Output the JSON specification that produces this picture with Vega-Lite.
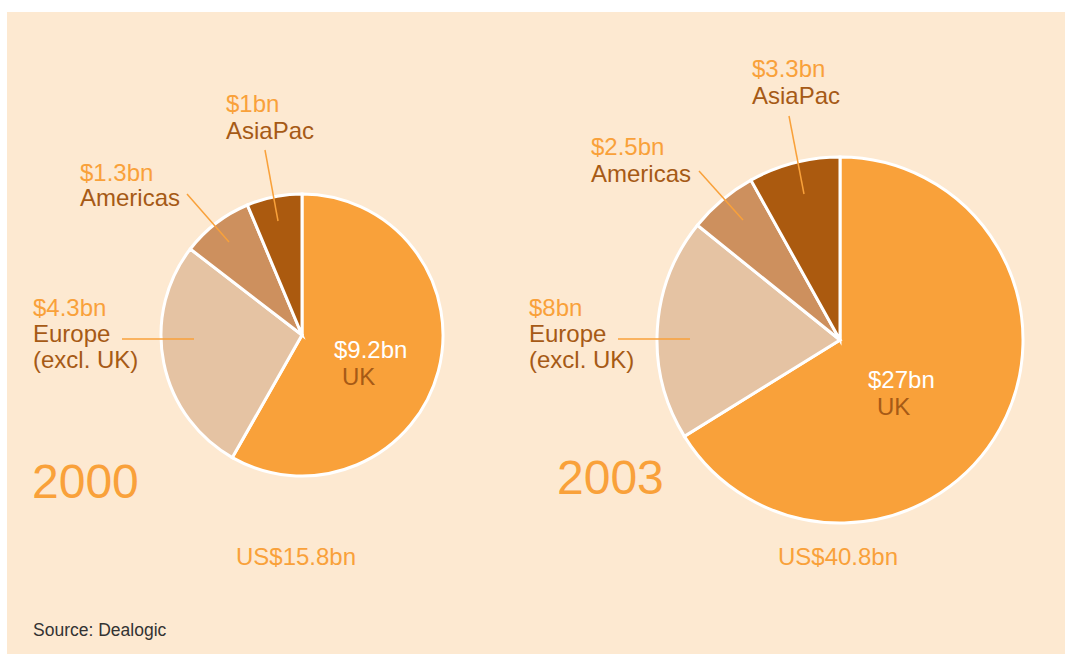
{
  "$schema": "https://vega.github.io/schema/vega-lite/v6.json",
  "width": 1058,
  "height": 642,
  "autosize": {"type": "none"},
  "padding": {"left": 7, "top": 12, "right": 7, "bottom": 0},
  "background": "#ffffff",
  "config": {
    "view": {"fill": "#FDE9D1", "stroke": null},
    "text": {"font": "Liberation Sans", "fontSize": 24, "align": "left", "baseline": "alphabetic"}
  },
  "datasets": {
    "deals": [
      {"year": "2000", "region": "UK", "value": 9.2, "rank": 1, "label": "$9.2bn"},
      {"year": "2000", "region": "Europe", "value": 4.3, "rank": 2, "label": "$4.3bn"},
      {"year": "2000", "region": "Americas", "value": 1.3, "rank": 3, "label": "$1.3bn"},
      {"year": "2000", "region": "AsiaPac", "value": 1.0, "rank": 4, "label": "$1bn"},
      {"year": "2003", "region": "UK", "value": 27, "rank": 1, "label": "$27bn"},
      {"year": "2003", "region": "Europe", "value": 8, "rank": 2, "label": "$8bn"},
      {"year": "2003", "region": "Americas", "value": 2.5, "rank": 3, "label": "$2.5bn"},
      {"year": "2003", "region": "AsiaPac", "value": 3.3, "rank": 4, "label": "$3.3bn"}
    ]
  },
  "data": {"name": "deals"},
  "layer": [
    {
      "transform": [{"filter": "datum.year == '2000'"}],
      "mark": {"type": "arc", "radius": 141, "stroke": "#ffffff", "strokeWidth": 3},
      "encoding": {
        "x": {"datum": 302, "type": "quantitative", "scale": {"domain": [7, 1065], "nice": false, "zero": false}, "axis": null},
        "y": {"datum": 335, "type": "quantitative", "scale": {"domain": [12, 654], "nice": false, "zero": false, "reverse": true}, "axis": null},
        "theta": {"field": "value", "type": "quantitative", "stack": "normalize"},
        "order": {"field": "rank", "type": "quantitative"},
        "color": {"field": "region", "type": "nominal", "scale": {"domain": ["UK", "Europe", "Americas", "AsiaPac"], "range": ["#F9A13A", "#E5C3A3", "#CD905E", "#AB5A0F"]}, "legend": null}
      }
    },
    {
      "transform": [{"filter": "datum.year == '2003'"}],
      "mark": {"type": "arc", "radius": 183, "stroke": "#ffffff", "strokeWidth": 3},
      "encoding": {
        "x": {"datum": 840, "type": "quantitative"},
        "y": {"datum": 340, "type": "quantitative"},
        "theta": {"field": "value", "type": "quantitative", "stack": "normalize"},
        "order": {"field": "rank", "type": "quantitative"},
        "color": {"field": "region", "type": "nominal"}
      }
    },
    {"data": {"values": [{}]}, "mark": {"type": "rule", "color": "#F9A13A", "strokeWidth": 1.5},
     "encoding": {"x": {"datum": 265, "type": "quantitative"}, "y": {"datum": 150, "type": "quantitative"}, "x2": {"datum": 278}, "y2": {"datum": 221}}},
    {"data": {"values": [{}]}, "mark": {"type": "rule", "color": "#F9A13A", "strokeWidth": 1.5},
     "encoding": {"x": {"datum": 187, "type": "quantitative"}, "y": {"datum": 194, "type": "quantitative"}, "x2": {"datum": 229}, "y2": {"datum": 242}}},
    {"data": {"values": [{}]}, "mark": {"type": "rule", "color": "#F9A13A", "strokeWidth": 1.5},
     "encoding": {"x": {"datum": 122, "type": "quantitative"}, "y": {"datum": 339, "type": "quantitative"}, "x2": {"datum": 194}, "y2": {"datum": 339}}},
    {"data": {"values": [{}]}, "mark": {"type": "rule", "color": "#F9A13A", "strokeWidth": 1.5},
     "encoding": {"x": {"datum": 789, "type": "quantitative"}, "y": {"datum": 116, "type": "quantitative"}, "x2": {"datum": 804}, "y2": {"datum": 194}}},
    {"data": {"values": [{}]}, "mark": {"type": "rule", "color": "#F9A13A", "strokeWidth": 1.5},
     "encoding": {"x": {"datum": 699, "type": "quantitative"}, "y": {"datum": 171, "type": "quantitative"}, "x2": {"datum": 743}, "y2": {"datum": 220}}},
    {"data": {"values": [{}]}, "mark": {"type": "rule", "color": "#F9A13A", "strokeWidth": 1.5},
     "encoding": {"x": {"datum": 618, "type": "quantitative"}, "y": {"datum": 339, "type": "quantitative"}, "x2": {"datum": 690}, "y2": {"datum": 339}}},

    {"transform": [{"filter": "datum.year == '2000' && datum.region == 'AsiaPac'"}], "mark": {"type": "text", "color": "#F9A13A"},
     "encoding": {"x": {"datum": 226, "type": "quantitative"}, "y": {"datum": 112, "type": "quantitative"}, "text": {"field": "label"}}},
    {"transform": [{"filter": "datum.year == '2000' && datum.region == 'Americas'"}], "mark": {"type": "text", "color": "#F9A13A"},
     "encoding": {"x": {"datum": 80, "type": "quantitative"}, "y": {"datum": 181, "type": "quantitative"}, "text": {"field": "label"}}},
    {"transform": [{"filter": "datum.year == '2000' && datum.region == 'Europe'"}], "mark": {"type": "text", "color": "#F9A13A"},
     "encoding": {"x": {"datum": 33, "type": "quantitative"}, "y": {"datum": 316, "type": "quantitative"}, "text": {"field": "label"}}},
    {"transform": [{"filter": "datum.year == '2000' && datum.region == 'UK'"}], "mark": {"type": "text", "color": "#FFFFFF"},
     "encoding": {"x": {"datum": 334, "type": "quantitative"}, "y": {"datum": 358, "type": "quantitative"}, "text": {"field": "label"}}},
    {"transform": [{"filter": "datum.year == '2003' && datum.region == 'AsiaPac'"}], "mark": {"type": "text", "color": "#F9A13A"},
     "encoding": {"x": {"datum": 752, "type": "quantitative"}, "y": {"datum": 77, "type": "quantitative"}, "text": {"field": "label"}}},
    {"transform": [{"filter": "datum.year == '2003' && datum.region == 'Americas'"}], "mark": {"type": "text", "color": "#F9A13A"},
     "encoding": {"x": {"datum": 591, "type": "quantitative"}, "y": {"datum": 155, "type": "quantitative"}, "text": {"field": "label"}}},
    {"transform": [{"filter": "datum.year == '2003' && datum.region == 'Europe'"}], "mark": {"type": "text", "color": "#F9A13A"},
     "encoding": {"x": {"datum": 529, "type": "quantitative"}, "y": {"datum": 316, "type": "quantitative"}, "text": {"field": "label"}}},
    {"transform": [{"filter": "datum.year == '2003' && datum.region == 'UK'"}], "mark": {"type": "text", "color": "#FFFFFF"},
     "encoding": {"x": {"datum": 868, "type": "quantitative"}, "y": {"datum": 388, "type": "quantitative"}, "text": {"field": "label"}}},

    {"data": {"values": [{}]}, "mark": {"type": "text", "color": "#A65A16", "text": "AsiaPac"},
     "encoding": {"x": {"datum": 226, "type": "quantitative"}, "y": {"datum": 139, "type": "quantitative"}}},
    {"data": {"values": [{}]}, "mark": {"type": "text", "color": "#A65A16", "text": "Americas"},
     "encoding": {"x": {"datum": 80, "type": "quantitative"}, "y": {"datum": 206, "type": "quantitative"}}},
    {"data": {"values": [{}]}, "mark": {"type": "text", "color": "#A65A16", "text": ["Europe", "(excl. UK)"], "lineHeight": 26},
     "encoding": {"x": {"datum": 33, "type": "quantitative"}, "y": {"datum": 342, "type": "quantitative"}}},
    {"data": {"values": [{}]}, "mark": {"type": "text", "color": "#A65A16", "text": "UK"},
     "encoding": {"x": {"datum": 342, "type": "quantitative"}, "y": {"datum": 385, "type": "quantitative"}}},
    {"data": {"values": [{}]}, "mark": {"type": "text", "color": "#A65A16", "text": "AsiaPac"},
     "encoding": {"x": {"datum": 752, "type": "quantitative"}, "y": {"datum": 104, "type": "quantitative"}}},
    {"data": {"values": [{}]}, "mark": {"type": "text", "color": "#A65A16", "text": "Americas"},
     "encoding": {"x": {"datum": 591, "type": "quantitative"}, "y": {"datum": 182, "type": "quantitative"}}},
    {"data": {"values": [{}]}, "mark": {"type": "text", "color": "#A65A16", "text": ["Europe", "(excl. UK)"], "lineHeight": 26},
     "encoding": {"x": {"datum": 529, "type": "quantitative"}, "y": {"datum": 342, "type": "quantitative"}}},
    {"data": {"values": [{}]}, "mark": {"type": "text", "color": "#A65A16", "text": "UK"},
     "encoding": {"x": {"datum": 877, "type": "quantitative"}, "y": {"datum": 415, "type": "quantitative"}}},

    {"data": {"values": [{}]}, "mark": {"type": "text", "color": "#F9A13A", "text": "2000", "fontSize": 48},
     "encoding": {"x": {"datum": 32, "type": "quantitative"}, "y": {"datum": 498, "type": "quantitative"}}},
    {"data": {"values": [{}]}, "mark": {"type": "text", "color": "#F9A13A", "text": "2003", "fontSize": 48},
     "encoding": {"x": {"datum": 557, "type": "quantitative"}, "y": {"datum": 494, "type": "quantitative"}}},
    {"data": {"values": [{}]}, "mark": {"type": "text", "color": "#F9A13A", "text": "US$15.8bn", "align": "center", "fontSize": 24},
     "encoding": {"x": {"datum": 296, "type": "quantitative"}, "y": {"datum": 565, "type": "quantitative"}}},
    {"data": {"values": [{}]}, "mark": {"type": "text", "color": "#F9A13A", "text": "US$40.8bn", "align": "center", "fontSize": 24},
     "encoding": {"x": {"datum": 838, "type": "quantitative"}, "y": {"datum": 565, "type": "quantitative"}}},
    {"data": {"values": [{}]}, "mark": {"type": "text", "color": "#333333", "text": "Source: Dealogic", "fontSize": 17.5},
     "encoding": {"x": {"datum": 33, "type": "quantitative"}, "y": {"datum": 636, "type": "quantitative"}}}
  ]
}
